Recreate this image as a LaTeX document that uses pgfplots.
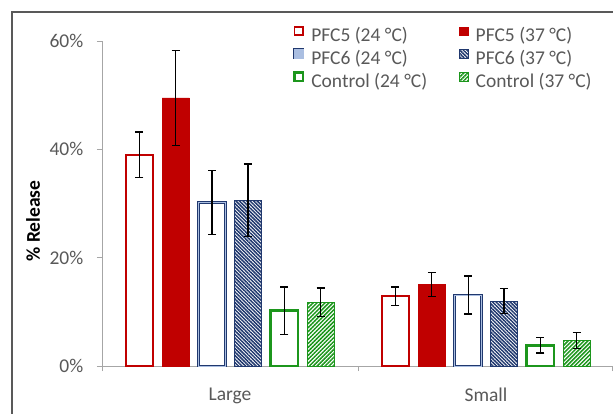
\documentclass[border=0pt]{standalone}
\usepackage{fontspec}
\setmainfont{Carlito}
\usepackage{pgfplots}
\pgfplotsset{compat=1.18}
\usetikzlibrary{patterns.meta}
\definecolor{pfcred}{RGB}{192,0,0}
\definecolor{navy}{RGB}{32,56,110}
\definecolor{lightnavy}{RGB}{170,190,225}
\definecolor{ctrlgreen}{RGB}{28,150,28}
\definecolor{axisgrey}{RGB}{166,166,166}
\definecolor{labelgrey}{RGB}{89,89,89}
\definecolor{framegrey}{RGB}{89,89,89}
\pgfplotsset{
  barbase/.style={ybar, bar width=0.106, bar shift=0pt,
    legend image code/.code={\draw[##1] (0bp,0.5bp) rectangle (8.5bp,9bp);}},
  errs/.style={error bars/y dir=both, error bars/y explicit,
    error bars/error mark=|,
    error bars/error bar style={draw=black, line width=1.2bp, solid},
    error bars/error mark options={draw=black, line width=1.2bp, mark size=4bp, solid}},
}
\begin{document}
\fontsize{19.5bp}{23bp}\selectfont
\begin{tikzpicture}
\path[use as bounding box] (-102bp,-48bp) rectangle (511bp,366bp);
\fill[white] (-102bp,-48bp) rectangle (511bp,366bp);
\draw[framegrey, line width=1.2bp] (-90bp,-120bp) rectangle (620bp,354bp);
\begin{axis}[
  at={(0,0)}, anchor=south west, scale only axis,
  width=510bp, height=325bp,
  xmin=-0.5, xmax=1.492, ymin=0, ymax=60,
  clip=false,
  axis x line*=bottom, axis y line*=left,
  axis line style={draw=axisgrey, line width=0.9bp, -},
  tick style={draw=axisgrey, line width=0.9bp},
  tick align=outside, major tick length=5bp,
  xtick={-0.5,0.5,1.492}, xticklabels={},
  extra x ticks={0,1}, extra x tick labels={Large,Small},
  extra x tick style={major tick length=0pt},
  xticklabel style={yshift=-15bp, text=labelgrey},
  ytick={0,20,40,60},
  yticklabel={\pgfmathprintnumber{\tick}\%},
  yticklabel style={text=labelgrey, xshift=-7bp},
  /pgf/number format/assume math mode=true,
  ylabel={\bfseries \% Release},
  ylabel style={at={(axis description cs:-0.135,0.446)}, anchor=center, text=black},
  legend columns=2,
  legend cell align=left,
  legend style={draw=none, fill=none, at={(0.3745,1.047)}, anchor=north west,
    inner sep=0pt, text=labelgrey,
    nodes={inner sep=0pt}, row sep=4bp, column sep=7bp,
    /tikz/every even column/.append style={column sep=32bp}},
]
% PFC5 24
\addplot[barbase, errs, draw=pfcred, line width=1.8bp, fill=white]
  coordinates {(-0.354,39.0) +- (0,4.2) (0.646,12.9) +- (0,1.7)};
\addlegendentry{PFC5 (24 °C)}
% PFC5 37
\addplot[barbase, errs, draw=pfcred, line width=0.6bp, fill=pfcred]
  coordinates {(-0.212,49.5) +- (0,8.8) (0.788,15.1) +- (0,2.2)};
\addlegendentry{PFC5 (37 °C)}
% PFC6 24
\addplot[barbase, draw=navy, line width=2.6bp, fill=white,
  legend image code/.code={\draw[navy, line width=2.4bp, fill=white] (0bp,0.5bp) rectangle (8.5bp,9bp);
    \draw[lightnavy, line width=0.8bp] (0bp,0.5bp) rectangle (8.5bp,9bp);}]
  coordinates {(-0.070,30.2) (0.930,13.1)};
\addlegendentry{PFC6 (24 °C)}
% PFC6 37
\addplot[barbase, errs, draw=navy, line width=1bp,
  pattern={Lines[angle=-45,distance=2.5bp,line width=1.5bp]}, pattern color=navy]
  coordinates {(0.070,30.6) +- (0,6.7) (1.070,12.0) +- (0,2.3)};
\addlegendentry{PFC6 (37 °C)}
% Control 24
\addplot[barbase, errs, draw=ctrlgreen, line width=2.6bp, fill=white]
  coordinates {(0.212,10.2) +- (0,4.4) (1.212,3.8) +- (0,1.4)};
\addlegendentry{Control (24 °C)}
% Control 37
\addplot[barbase, errs, draw=ctrlgreen, line width=1bp,
  pattern={Lines[angle=45,distance=2.8bp,line width=1.5bp]}, pattern color=ctrlgreen]
  coordinates {(0.354,11.8) +- (0,2.6) (1.354,4.7) +- (0,1.5)};
\addlegendentry{Control (37 °C)}
% PFC6 24 inner light line and error bars
\addplot[barbase, draw=lightnavy, line width=0.8bp, fill=none, forget plot]
  coordinates {(-0.070,30.2) (0.930,13.1)};
\addplot[errs, draw=none, forget plot]
  coordinates {(-0.070,30.2) +- (0,5.9) (0.930,13.1) +- (0,3.5)};
\end{axis}
\end{tikzpicture}
\end{document}
